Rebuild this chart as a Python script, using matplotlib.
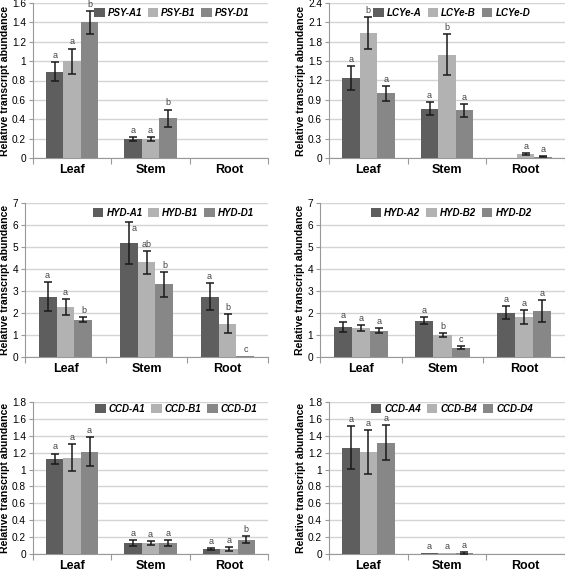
import matplotlib
matplotlib.use("Agg")
import matplotlib.pyplot as plt
import numpy as np

plt.rcParams['font.family'] = ['Liberation Sans', 'DejaVu Sans']

tissues = ["Leaf", "Stem", "Root"]
colors = ["#5e5e5e", "#b2b2b2", "#878787"]

# Panel data: values per gene (A,B,D) across tissues
psy_names = ["PSY-A1", "PSY-B1", "PSY-D1"]
psy_vals = [[0.89, 0.20, 0.0], [1.00, 0.20, 0.0], [1.40, 0.41, 0.0]]
psy_errs = [[0.10, 0.02, 0.0], [0.13, 0.02, 0.0], [0.12, 0.09, 0.0]]
psy_lets = [["a", "a", ""], ["a", "a", ""], ["b", "b", ""]]

lcy_names = ["LCYe-A", "LCYe-B", "LCYe-D"]
lcy_vals = [[1.24, 0.76, 0.0], [1.93, 1.60, 0.06], [1.00, 0.74, 0.02]]
lcy_errs = [[0.19, 0.10, 0.0], [0.25, 0.32, 0.02], [0.11, 0.10, 0.01]]
lcy_lets = [["a", "a", ""], ["b", "b", "a"], ["a", "a", "a"]]

hyd1_names = ["HYD-A1", "HYD-B1", "HYD-D1"]
hyd1_vals = [[2.75, 5.18, 2.75], [2.28, 4.30, 1.52], [1.70, 3.30, 0.03]]
hyd1_errs = [[0.65, 0.97, 0.62], [0.35, 0.52, 0.45], [0.10, 0.57, 0.0]]
hyd1_lets = [["a", "a", "a"], ["a", "ab", "b"], ["b", "b", "c"]]

hyd2_names = ["HYD-A2", "HYD-B2", "HYD-D2"]
hyd2_vals = [[1.37, 1.65, 2.02], [1.33, 1.00, 1.80], [1.20, 0.43, 2.08]]
hyd2_errs = [[0.22, 0.15, 0.28], [0.14, 0.08, 0.32], [0.10, 0.07, 0.50]]
hyd2_lets = [["a", "a", "a"], ["a", "b", "a"], ["a", "c", "a"]]

ccd1_names = ["CCD-A1", "CCD-B1", "CCD-D1"]
ccd1_vals = [[1.13, 0.13, 0.06], [1.14, 0.13, 0.06], [1.21, 0.13, 0.17]]
ccd1_errs = [[0.06, 0.04, 0.01], [0.16, 0.02, 0.02], [0.17, 0.03, 0.04]]
ccd1_lets = [["a", "a", "a"], ["a", "a", "a"], ["a", "a", "b"]]

ccd4_names = ["CCD-A4", "CCD-B4", "CCD-D4"]
ccd4_vals = [[1.26, 0.01, 0.0], [1.21, 0.01, 0.0], [1.32, 0.01, 0.0]]
ccd4_errs = [[0.25, 0.0, 0.0], [0.26, 0.0, 0.0], [0.21, 0.01, 0.0]]
ccd4_lets = [["a", "a", ""], ["a", "a", ""], ["a", "a", ""]]

W, H = 565, 573
fig = plt.figure(figsize=(W / 100, H / 100), dpi=100)

panels = [
    # names, vals, errs, lets, ymax, ystep, rect(x0,x1,ytop,ybot), legend pos
    (psy_names, psy_vals, psy_errs, psy_lets, 1.6, 0.2, (33, 268, 3, 158), (0.59, 0.935)),
    (lcy_names, lcy_vals, lcy_errs, lcy_lets, 2.4, 0.3, (329, 565, 3, 158), (0.52, 0.935)),
    (hyd1_names, hyd1_vals, hyd1_errs, hyd1_lets, 7, 1, (25, 268, 203, 357), (0.61, 0.935)),
    (hyd2_names, hyd2_vals, hyd2_errs, hyd2_lets, 7, 1, (320, 565, 203, 357), (0.535, 0.935)),
    (ccd1_names, ccd1_vals, ccd1_errs, ccd1_lets, 1.8, 0.2, (33, 268, 402, 554), (0.61, 0.955)),
    (ccd4_names, ccd4_vals, ccd4_errs, ccd4_lets, 1.8, 0.2, (329, 565, 402, 554), (0.52, 0.955)),
]

bw = 0.222
x = np.arange(len(tissues))
for pidx, (names, vals, errs, lets, ymax, ystep, (x0, x1, yt, yb), lpos) in enumerate(panels):
    ax = fig.add_axes([x0 / W, (H - yb) / H, (x1 - x0) / W, (yb - yt) / H])
    for i in range(3):
        pos = x + (i - 1) * bw
        ax.bar(pos, vals[i], width=bw, color=colors[i], label=names[i], zorder=3)
        for j in range(3):
            if errs[i][j] > 0:
                ax.errorbar(pos[j], vals[i][j], yerr=errs[i][j], fmt='none',
                            ecolor="#1a1a1a", elinewidth=1.1, capsize=3.2,
                            capthick=1.1, zorder=4)
            if lets[i][j]:
                off = (0, 1.5)
                va = 'bottom'
                if pidx == 2 and i == 0 and j == 1:
                    off = (4, -2)
                    va = 'top'
                ax.annotate(lets[i][j], (pos[j], vals[i][j] + errs[i][j]),
                            xytext=off, textcoords='offset points',
                            ha='center', va=va, fontsize=6.5,
                            color="#444444", zorder=5)
    ax.set_xlim(-0.5, 2.5)
    ax.set_ylim(0, ymax)
    yt_vals = np.arange(0, ymax + ystep / 2, ystep)
    ax.set_yticks(yt_vals)
    ax.set_yticklabels(['{:g}'.format(round(v, 2)) for v in yt_vals], fontsize=7.3)
    ax.yaxis.grid(True, color="#d4d4d4", linewidth=1.0, zorder=0)
    ax.set_axisbelow(True)
    ax.set_xticks([-0.5, 0.5, 1.5, 2.5])
    ax.set_xticklabels([])
    ax.set_xticks(x, minor=True)
    ax.set_xticklabels(tissues, minor=True, fontsize=9, fontweight='bold')
    ax.tick_params(axis='x', which='major', length=4, color="#999999", direction='out')
    ax.tick_params(axis='x', which='minor', length=0, pad=4)
    ax.tick_params(axis='y', length=3, color="#999999", pad=2)
    for s in ['top', 'right']:
        ax.spines[s].set_visible(False)
    for s in ['left', 'bottom']:
        ax.spines[s].set_color("#999999")
    ax.set_ylabel("Relative transcript abundance", fontsize=7.6, fontweight='bold', labelpad=1.5)
    ax.legend(loc='center', bbox_to_anchor=lpos, ncol=3, frameon=False,
              handlelength=1.1, handleheight=1.0, handletextpad=0.3,
              columnspacing=0.6, borderaxespad=0,
              prop={'size': 7, 'weight': 'bold', 'style': 'italic'})

fig.savefig("out.png", dpi=100, facecolor='white')
